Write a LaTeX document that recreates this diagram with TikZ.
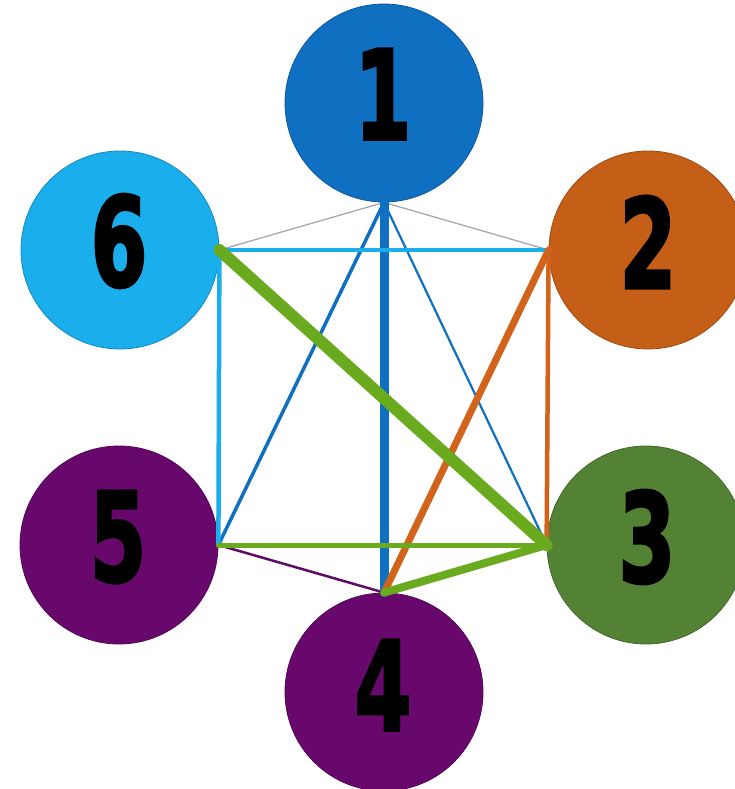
\documentclass[tikz,border=0pt]{standalone}
\usepackage{graphicx}
\usepackage{fontspec}
\newfontfamily\numfont[BoldFeatures={FakeBold=2.5}]{DejaVu Sans}
\definecolor{cblue}{HTML}{0F6FC0}
\definecolor{clight}{HTML}{1AAEEC}
\definecolor{corange}{HTML}{C55E17}
\definecolor{cgreen}{HTML}{548235}
\definecolor{cpurple}{HTML}{69086C}
\definecolor{lgreen}{HTML}{6AAA1E}
\definecolor{lorange}{HTML}{D2631A}
\definecolor{lgray}{HTML}{A8A8A8}
\definecolor{lpurple}{HTML}{5E0B66}
\newcommand\dg[1]{\scalebox{0.66}[1]{#1}}
\tikzset{
  ball/.style={circle, minimum size=198pt, inner sep=0pt, fill=#1, draw=#1!80!black, line width=0.8pt},
  num/.style={inner sep=0pt, text=black, font=\numfont\bfseries\fontsize{124}{124}\selectfont},
  edge/.style={line cap=round},
}
\begin{document}
\begin{tikzpicture}[x=1pt,y=-1pt]
\useasboundingbox (0,0) rectangle (735,789);
\fill[white] (0,0) rectangle (735,789);
\clip (0,0) rectangle (735,789);
% circles
\node[ball=cblue]   (c1) at (384,103) {};
\node[ball=corange] (c2) at (648,250) {};
\node[ball=cgreen]  (c3) at (646,545) {};
\node[ball=cpurple] (c4) at (384,692) {};
\node[ball=cpurple] (c5) at (119,545) {};
\node[ball=clight]  (c6) at (120,250) {};
% connectors
\draw[edge, lgray, line width=1.3pt] (c1.south) -- (c6.east);
\draw[edge, lgray, line width=1.3pt] (c1.south) -- (c2.west);
\draw[edge, cblue, line width=3.5pt] (c1.south) -- (c5.east);
\draw[edge, cblue, line width=2.2pt] (c1.south) -- (c3.west);
\draw[edge, cblue, line width=9pt] (c1.south) -- (c4.north);
\draw[edge, clight, line width=4.5pt] (c6.east) -- (c2.west);
\draw[edge, clight, line width=4.5pt] (c6.east) -- (c5.east);
\draw[edge, lorange, line width=4.5pt] (c2.west) -- (c3.west);
\draw[edge, lorange, line width=7pt] (c2.west) -- (c4.north);
\draw[edge, lpurple, line width=2.5pt] (c5.east) -- (c4.north);
\draw[edge, lgreen, line width=5pt] (c5.east) -- (c3.west);
\draw[edge, lgreen, line width=12pt] (c6.east) -- (c3.west);
\draw[edge, lgreen, line width=8pt] (c3.west) -- (c4.north);
% labels
\node[num] (l1) at (383,94)  {\dg{1}};
\node[num] (l2) at (648,242) {\dg{2}};
\node[num] (l3) at (647,537) {\dg{3}};
\node[num] (l4) at (383,685) {\dg{4}};
\node[num] (l5) at (118,537) {\dg{5}};
\node[num] (l6) at (119,241) {\dg{6}};
\end{tikzpicture}
\end{document}
